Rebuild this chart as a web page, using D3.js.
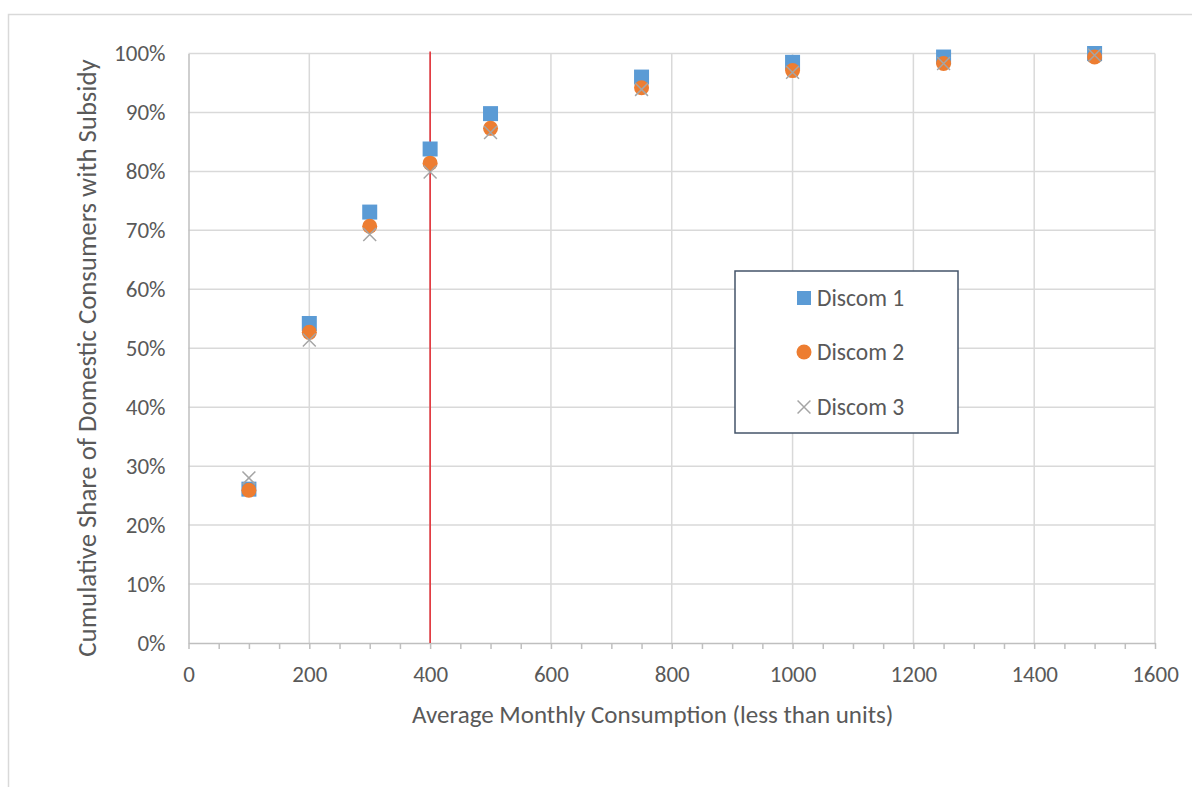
<!DOCTYPE html>
<html>
<head>
<meta charset="utf-8">
<script src="https://cdn.jsdelivr.net/npm/d3@7"></script>
<style>
  body { margin: 0; background: #fff; }
  text { font-family: Carlito, "Open Sans", Lato, sans-serif; fill: #595959; }
</style>
</head>
<body>
<script>
// data
var consumption = [100, 200, 300, 400, 500, 750, 1000, 1250, 1500];
var discom1 = [0.261, 0.542, 0.731, 0.838, 0.898, 0.960, 0.985, 0.994, 1.000];
var discom2 = [0.259, 0.527, 0.707, 0.814, 0.873, 0.942, 0.971, 0.983, 0.994];
var discom3 = [0.280, 0.514, 0.693, 0.799, 0.866, 0.939, 0.968, 0.983, 0.997];
var seriesNames = ["Discom 1", "Discom 2", "Discom 3"];
var xTicks = [0, 200, 400, 600, 800, 1000, 1200, 1400, 1600];
var yTicks = [0, 0.1, 0.2, 0.3, 0.4, 0.5, 0.6, 0.7, 0.8, 0.9, 1.0];
var cutoff = 400;

var W = 1192, H = 787;
var margin = {top: 53.5, right: 37, bottom: 144, left: 188.5},
    width = W - margin.left - margin.right,
    height = H - margin.top - margin.bottom;

var svg = d3.select("body").append("svg")
    .attr("width", W)
    .attr("height", H);

// outer chart frame
svg.append("rect")
    .attr("x", 8.5).attr("y", 14.5)
    .attr("width", 1200).attr("height", 800)
    .attr("fill", "none")
    .attr("stroke", "#d9d9d9")
    .attr("stroke-width", 1.5);

var g = svg.append("g")
    .attr("transform", "translate(" + margin.left + "," + margin.top + ")");

var x = d3.scaleLinear().domain([0, 1600]).range([0, width]);
var y = d3.scaleLinear().domain([0, 1]).range([height, 0]);

// gridlines
g.selectAll(".hgrid")
    .data(yTicks.slice(1))
    .enter().append("line")
    .attr("x1", 0).attr("x2", width)
    .attr("y1", function(d) { return y(d); })
    .attr("y2", function(d) { return y(d); })
    .attr("stroke", "#d9d9d9").attr("stroke-width", 1.5);

g.selectAll(".vgrid")
    .data(xTicks.slice(1))
    .enter().append("line")
    .attr("y1", 0).attr("y2", height)
    .attr("x1", function(d) { return x(d); })
    .attr("x2", function(d) { return x(d); })
    .attr("stroke", "#d9d9d9").attr("stroke-width", 1.5);

// y axis
var yAxis = g.append("g")
    .call(d3.axisLeft(y).tickValues(yTicks).tickFormat(d3.format(".0%")).tickSize(0).tickPadding(23));
yAxis.select(".domain").attr("stroke", "#bfbfbf").attr("stroke-width", 1.5);
yAxis.selectAll("text").style("font-size", "23px").attr("fill", "#595959");

// x axis, minor ticks every 50
var xAxis = g.append("g")
    .attr("transform", "translate(0," + height + ")")
    .call(d3.axisBottom(x).tickValues(d3.range(0, 1601, 50)).tickSize(6).tickSizeOuter(0)
        .tickFormat(function(d) { return d % 200 === 0 ? d : ""; }));
xAxis.select(".domain").attr("stroke", "#bfbfbf").attr("stroke-width", 1.5);
xAxis.selectAll("line").attr("stroke", "#bfbfbf").attr("stroke-width", 1.5);
xAxis.selectAll("text").style("font-size", "23px").attr("fill", "#595959")
    .attr("y", 0).attr("dy", 38.5);

// 400-unit cutoff line
g.append("line")
    .attr("x1", x(cutoff)).attr("x2", x(cutoff))
    .attr("y1", -2).attr("y2", height)
    .attr("stroke", "#e3262d").attr("stroke-width", 1.5);

// markers
var pts1 = consumption.map(function(c, i) { return {x: c, y: discom1[i]}; });
var pts2 = consumption.map(function(c, i) { return {x: c, y: discom2[i]}; });
var pts3 = consumption.map(function(c, i) { return {x: c, y: discom3[i]}; });

g.selectAll(".d1")
    .data(pts1)
    .enter().append("rect")
    .attr("x", function(d) { return x(d.x) - 7.5; })
    .attr("y", function(d) { return y(d.y) - 7.5; })
    .attr("width", 15).attr("height", 15)
    .attr("fill", "#5b9bd5");

g.selectAll(".d2")
    .data(pts2)
    .enter().append("circle")
    .attr("cx", function(d) { return x(d.x); })
    .attr("cy", function(d) { return y(d.y); })
    .attr("r", 7.5)
    .attr("fill", "#ed7d31");

var cross = d3.symbol().type(d3.symbolX).size(110);
g.selectAll(".d3")
    .data(pts3)
    .enter().append("path")
    .attr("transform", function(d) { return "translate(" + x(d.x) + "," + y(d.y) + ")"; })
    .attr("d", cross)
    .attr("fill", "none")
    .attr("stroke", "#a5a5a5")
    .attr("stroke-width", 1.5);

// axis titles
svg.append("text")
    .attr("x", margin.left + width / 2 - 19)
    .attr("y", 723)
    .attr("text-anchor", "middle")
    .style("font-size", "25px")
    .text("Average Monthly Consumption (less than units)");

svg.append("text")
    .attr("transform", "translate(96,358) rotate(-90)")
    .attr("text-anchor", "middle")
    .style("font-size", "26.8px")
    .text("Cumulative Share of Domestic Consumers with Subsidy");

// legend
var legend = svg.append("g").attr("transform", "translate(735,271)");
legend.append("rect")
    .attr("width", 223).attr("height", 162)
    .attr("fill", "#fff")
    .attr("stroke", "#44546a").attr("stroke-width", 1.5);

var rowY = [27, 81, 136];
legend.append("rect").attr("x", 62).attr("y", rowY[0] - 7).attr("width", 14).attr("height", 14).attr("fill", "#5b9bd5");
legend.append("circle").attr("cx", 69).attr("cy", rowY[1]).attr("r", 7.5).attr("fill", "#ed7d31");
legend.append("path")
    .attr("transform", "translate(69," + rowY[2] + ")")
    .attr("d", cross)
    .attr("fill", "none").attr("stroke", "#a5a5a5").attr("stroke-width", 1.5);

legend.selectAll(".lbl")
    .data(seriesNames)
    .enter().append("text")
    .attr("x", 82)
    .attr("y", function(d, i) { return rowY[i]; })
    .attr("dy", "0.35em")
    .style("font-size", "23.5px")
    .text(function(d) { return d; });
</script>
</body>
</html>
